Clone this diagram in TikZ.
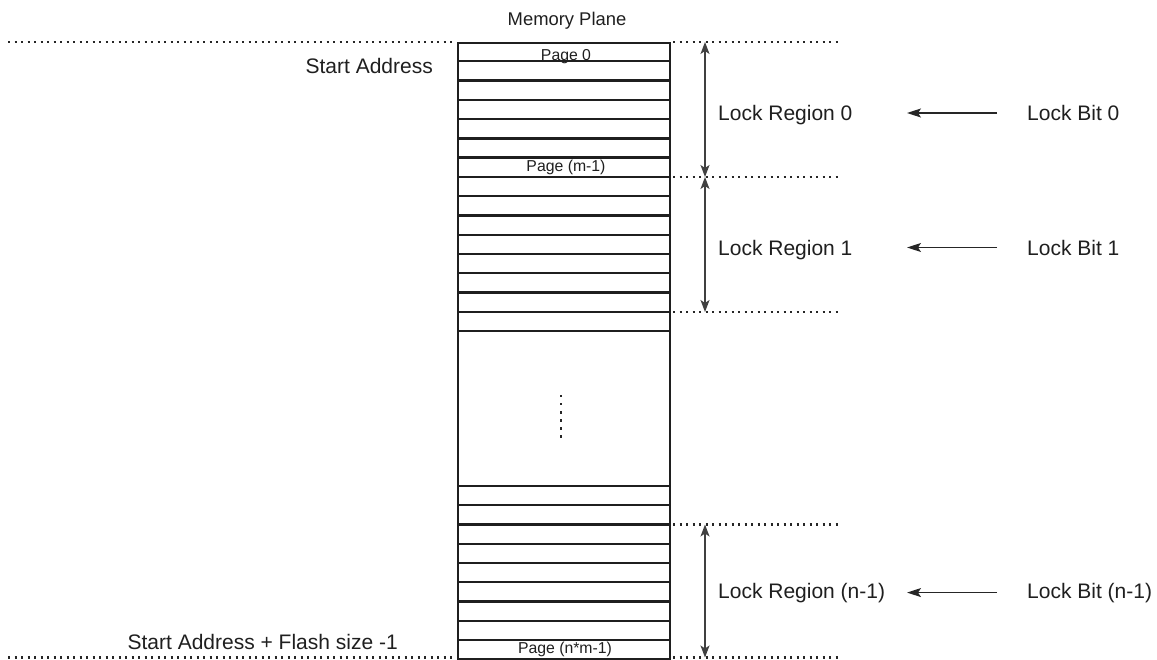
\documentclass[tikz,border=0pt]{standalone}
\usepackage{fontspec}
\setmainfont{Liberation Sans}
\usetikzlibrary{arrows.meta}
\begin{document}
\begin{tikzpicture}[x=1pt,y=-1pt,
  lbl/.style={inner sep=0pt, font=\fontsize{21}{25}\selectfont, text=black!88},
  ttl/.style={inner sep=0pt, font=\fontsize{18.4}{22}\selectfont, text=black!88},
  pg/.style={inner sep=0pt, font=\fontsize{15.8}{18}\selectfont, text=black!88},
  dotline/.style={line width=2.2pt, dash pattern=on 2.2pt off 4.3pt, black!85},
  row/.style={line width=2.3pt, black!88},
  span/.style={line width=1.4pt, black!75, {Stealth[length=12pt,width=9pt,inset=3pt]}-{Stealth[length=12pt,width=9pt,inset=3pt]}},
  ptr/.style={line width=1.4pt, black!85, -{Stealth[length=14pt,width=9pt,inset=3pt]}}
]
\useasboundingbox (0,0) rectangle (1157,659);

% memory plane box
\node[draw=black!88, line width=2.3pt, inner sep=0pt, minimum width=212pt, minimum height=616pt, anchor=north west] (mem) at (457,42) {};
\foreach \k in {1,...,15} \draw[row] (457,{42+\k*19.27}) -- (669,{42+\k*19.27});
\foreach \k in {0,...,8} \draw[row] (457,{486+\k*19.25}) -- (669,{486+\k*19.25});

% vertical ellipsis
\foreach \k in {0,...,5} \fill[black!85] (559.7,{394.7+8.1*\k}) rectangle ++(2.6,2.6);

% titles and page labels
\node[ttl, anchor=base] (title) at (567,25) {Memory Plane};
\node[pg, anchor=base] (p0) at (566,60) {Page 0};
\node[pg, anchor=base] (pm) at (566,171) {Page (m-1)};
\node[pg, anchor=base] (pnm) at (565,653.6) {Page (n*m-1)};

% address labels
\node[lbl, anchor=base east] (sa) at (433,73) {Start Address};
\node[lbl, anchor=base east] (ea) at (398,649) {Start Address + Flash size -1};

% dotted boundaries
\draw[dotline] (8,42) -- (455,42);
\draw[dotline] (8,657.5) -- (455,657.5);
\foreach \yy in {42,177,312,524.5,657.5} \draw[dotline] (673,\yy) -- (838,\yy);

% region spans
\coordinate (b0) at (705,42);
\coordinate (b1) at (705,177);
\coordinate (b2) at (705,312);
\coordinate (b3) at (705,524.5);
\coordinate (b4) at (705,657.5);
\draw[span] (b0) -- (b1);
\draw[span] (b1) -- (b2);
\draw[span] (b3) -- (b4);

% lock regions and bits
\node[lbl, anchor=base west] (lr0) at (718,120.5) {Lock Region 0};
\node[lbl, anchor=base west] (lr1) at (718,255) {Lock Region 1};
\node[lbl, anchor=base west] (lrn) at (718,598) {Lock Region (n-1)};
\node[lbl, anchor=base west] (lb0) at (1027,120.5) {Lock Bit 0};
\node[lbl, anchor=base west] (lb1) at (1027,255) {Lock Bit 1};
\node[lbl, anchor=base west] (lbn) at (1027,598) {Lock Bit (n-1)};

\draw[ptr] ([xshift=-30pt]lb0.west) -- ([xshift=-120pt]lb0.west);
\draw[ptr] ([xshift=-30pt]lb1.west) -- ([xshift=-120pt]lb1.west);
\draw[ptr] ([xshift=-30pt]lbn.west) -- ([xshift=-120pt]lbn.west);
\end{tikzpicture}
\end{document}
